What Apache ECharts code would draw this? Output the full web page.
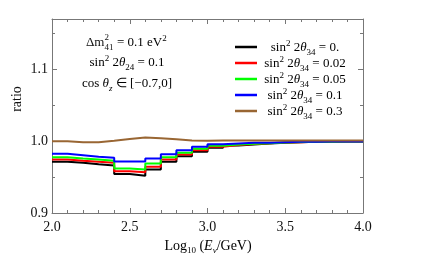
<!DOCTYPE html>
<html>
<head>
<meta charset="utf-8">
<script src="https://cdn.jsdelivr.net/npm/echarts@6/dist/echarts.min.js"></script>
<style>html,body{margin:0;padding:0;background:#fff;}#c{width:421px;height:264px;}</style>
</head>
<body>
<div id="c"></div>
<script>
// bin left edges in log10(E/GeV)
const binEdges = [2.0,2.1,2.2,2.3,2.4,2.5,2.6,2.7,2.8,2.9,3.0,3.1,3.2,3.3,3.4,3.5,3.6,3.7,3.8,3.9,4.0];
const ratio_s0    = [0.9712,0.9698,0.9678,0.9660,0.9544,0.9520,0.9604,0.9712,0.9790,0.9852,0.9908,0.9940,0.9954,0.9968,0.9979,0.9985,0.9990,0.9992,0.9994,0.9995];
const ratio_s002  = [0.9744,0.9726,0.9712,0.9698,0.9580,0.9566,0.9642,0.9744,0.9814,0.9874,0.9922,0.9947,0.9960,0.9970,0.9980,0.9986,0.9990,0.9992,0.9994,0.9995];
const ratio_s005  = [0.9776,0.9758,0.9744,0.9726,0.9618,0.9604,0.9688,0.9776,0.9838,0.9894,0.9936,0.9954,0.9964,0.9972,0.9980,0.9987,0.9990,0.9992,0.9994,0.9995];
const ratio_s01   = [0.9824,0.9804,0.9782,0.9768,0.9716,0.9716,0.9758,0.9818,0.9874,0.9922,0.9958,0.9968,0.9978,0.9978,0.9985,0.9990,0.9992,0.9994,0.9995,0.9996];
const ratio_s03   = [1.0000,0.9986,0.9986,1.0005,1.0030,1.0050,1.0040,1.0025,1.0010,1.0005,1.0008,1.0010,1.0010,1.0010,1.0010,1.0010,1.0010,1.0010,1.0010,1.0010];
const seriesLabels = ['0.','0.02','0.05','0.1','0.3'];
const seriesColors = ['#000000','#ff0000','#00ff00','#0000ff','#996633'];
const xTicks = [2.0,2.5,3.0,3.5,4.0];
const yTicks = [0.9,1.0,1.1];

function stepData(vals){
  const d = vals.map((v,i)=>[binEdges[i], v]);
  d.push([binEdges[binEdges.length-1], vals[vals.length-1]]);
  return d;
}
const allVals = [ratio_s0, ratio_s002, ratio_s005, ratio_s01, ratio_s03];

const chart = echarts.init(document.getElementById('c'));
const serif = 'Liberation Serif';
const frameColor = '#777777';
const richBase = {
  n:{fontFamily:serif,fontSize:13,fontWeight:'normal',color:'#111',lineHeight:18,verticalAlign:'middle'},
  i:{fontFamily:serif,fontSize:13,fontWeight:'normal',fontStyle:'italic',color:'#111',lineHeight:18,verticalAlign:'middle'},
  m:{fontFamily:serif,fontSize:14,fontWeight:'normal',color:'#111',lineHeight:18,verticalAlign:'middle'},
  mi:{fontFamily:serif,fontSize:14,fontWeight:'normal',fontStyle:'italic',color:'#111',lineHeight:18,verticalAlign:'middle'},
  sup:{fontFamily:serif,fontSize:9,fontWeight:'normal',color:'#111',lineHeight:9,verticalAlign:'top'},
  sub:{fontFamily:serif,fontSize:9,fontWeight:'normal',color:'#111',lineHeight:9,verticalAlign:'bottom'},
  isub:{fontFamily:serif,fontSize:9,fontWeight:'normal',fontStyle:'italic',color:'#111',lineHeight:9,verticalAlign:'bottom'}
};

// main frame axes
function mkAxis(type, pos, min, max, interval, minorSplit, showLabels){
  const ax = {
    type:'value', gridIndex:0, position:pos, min:min, max:max, interval:interval,
    axisLine:{show:true,lineStyle:{color:frameColor}},
    axisTick:{show:true,inside:true,length:5,lineStyle:{color:frameColor}},
    minorTick:{show:true,splitNumber:minorSplit,length:3,lineStyle:{color:frameColor}},
    splitLine:{show:false},
    axisLabel:{show:showLabels}
  };
  if(showLabels){
    const ticks = type==='x'?xTicks:yTicks;
    ax.axisLabel = {show:true,fontFamily:serif,fontSize:14,color:'#111',margin:type==='x'?7:4,
      formatter:v=>ticks.some(t=>Math.abs(t-v)<1e-6)?v.toFixed(1):''};
  }
  return ax;
}

// thin strip grids along each frame edge: their split lines act as inward tick marks
const grids = [{left:52,right:58,top:19,bottom:51}];
const xAxes = [ mkAxis('x','bottom',2,4,0.5,5,true), mkAxis('x','top',2,4,0.5,5,false) ];
const yAxes = [ mkAxis('y','left',0.9,1.17,0.1,2,true), mkAxis('y','right',0.9,1.17,0.1,2,false) ];
const hidden = {axisLine:{show:false},axisTick:{show:false},axisLabel:{show:false}};
function stripAxis(isX, gi, minor){
  const base = isX ? {min:2,max:4,interval:0.5,split:5} : {min:0.9,max:1.17,interval:0.1,split:2};
  return Object.assign({type:'value',gridIndex:gi,min:base.min,max:base.max,interval:base.interval,
    splitLine:{show:!minor,lineStyle:{color:frameColor,width:1}},
    minorTick:{show:false,splitNumber:base.split},
    minorSplitLine:{show:minor,lineStyle:{color:frameColor,width:1}}}, hidden);
}
function dummyAxis(gi){ return Object.assign({type:'value',gridIndex:gi,min:0,max:1,splitLine:{show:false}},hidden); }
const strips = [
  // horizontal strips (x ticks)
  {g:{left:52,right:58,top:208,height:5}, x:true, minor:false},
  {g:{left:52,right:58,top:210,height:3}, x:true, minor:true},
  {g:{left:52,right:58,top:19,height:5}, x:true, minor:false},
  {g:{left:52,right:58,top:19,height:3}, x:true, minor:true},
  // vertical strips (y ticks)
  {g:{left:52,width:5,top:19,bottom:51}, x:false, minor:false},
  {g:{left:52,width:3,top:19,bottom:51}, x:false, minor:true},
  {g:{left:358,width:5,top:19,bottom:51}, x:false, minor:false},
  {g:{left:360,width:3,top:19,bottom:51}, x:false, minor:true}
];
strips.forEach(s=>{
  const gi = grids.length;
  grids.push(s.g);
  if(s.x){ xAxes.push(stripAxis(true,gi,s.minor)); yAxes.push(dummyAxis(gi)); }
  else { yAxes.push(stripAxis(false,gi,s.minor)); xAxes.push(dummyAxis(gi)); }
});

const graphics = [];
const txt = (x,y,t,size)=>({type:'text',x:x,y:y,style:{text:t,fontFamily:serif,fontSize:size,fontWeight:'normal',fill:'#111',align:'left',verticalAlign:'middle'}});
graphics.push(txt(86,43,'Δm',13));
graphics.push(txt(104.5,38,'2',9));
graphics.push(txt(104.5,47.5,'41',9));
graphics.push({type:'text',x:117,y:43,style:{text:'{n|= 0.1 eV}{sup|2}',rich:richBase,align:'left',verticalAlign:'middle'}});
const ann = [
  '{n|sin}{sup|2}{n| 2}{i|θ}{sub|24}{n| = 0.1}',
  '{n|cos }{i|θ}{isub|z}{n| ∈ [−0.7,0]}'
];
const annY = [63,84];
ann.forEach((t,k)=>{
  graphics.push({type:'text',x:127,y:annY[k],style:{text:t,rich:richBase,align:'center',verticalAlign:'middle'}});
});
const legY = [47,63,79,95,111];
seriesLabels.forEach((lab,k)=>{
  graphics.push({type:'line',shape:{x1:235,y1:legY[k],x2:257,y2:legY[k]},style:{stroke:seriesColors[k],lineWidth:2.5}});
  graphics.push({type:'text',x:305,y:legY[k]+1,style:{text:'{n|sin}{sup|2}{n| 2}{i|θ}{sub|34}{n| = '+lab+'}',rich:richBase,align:'center',verticalAlign:'middle'}});
});
graphics.push({type:'text',x:17,y:99,rotation:Math.PI/2,style:{text:'ratio',fontFamily:serif,fontSize:14,fontWeight:'normal',fill:'#111',align:'center',verticalAlign:'middle'}});
graphics.push({type:'text',x:208,y:246,style:{text:'{m|Log}{sub|10}{m| (}{mi|E}{isub|ν}{m|/GeV)}',rich:richBase,align:'center',verticalAlign:'middle'}});

const option = {
  animation:false,
  grid:grids,
  xAxis:xAxes,
  yAxis:yAxes,
  series: allVals.map((vals,k)=>({
    name:seriesLabels[k],
    type:'line',step:'end',xAxisIndex:0,yAxisIndex:0,
    data:stepData(vals),showSymbol:false,symbol:'none',
    lineStyle:{color:seriesColors[k],width:2}
  })),
  graphic:graphics
};
chart.setOption(option);
</script>
</body>
</html>
